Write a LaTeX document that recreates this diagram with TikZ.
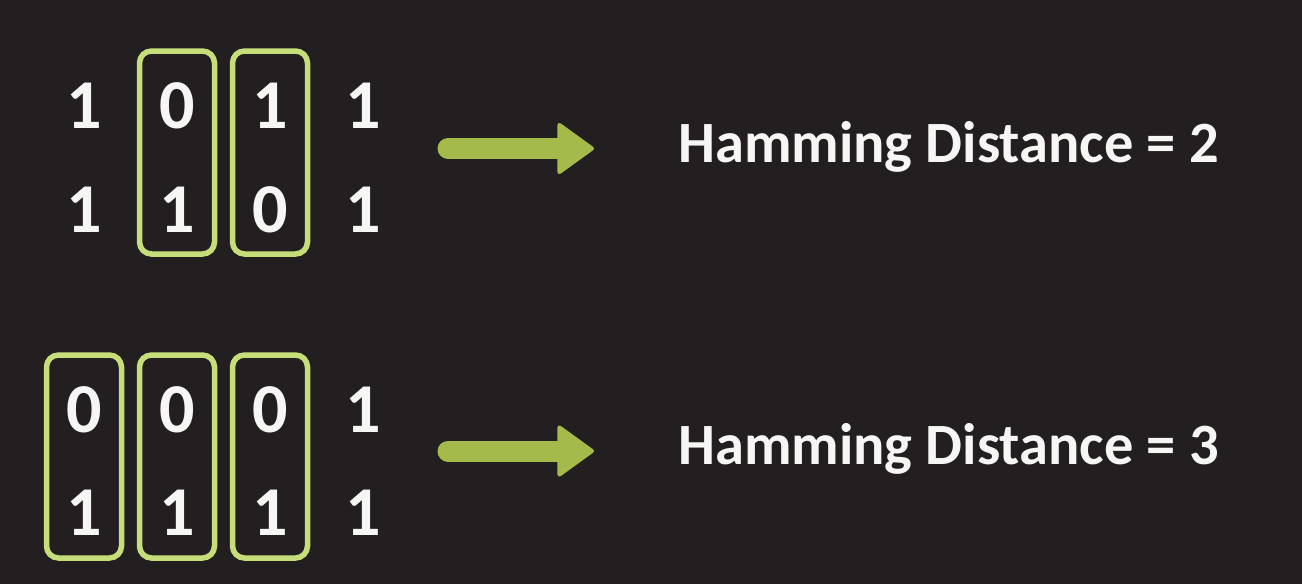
\documentclass[tikz,border=0pt]{standalone}
\usepackage{fontspec}
\setmainfont{Carlito}
\usetikzlibrary{arrows.meta}
\definecolor{mybg}{RGB}{35,31,32}
\definecolor{mylime}{RGB}{197,222,122}
\definecolor{myolive}{RGB}{164,186,74}
\definecolor{mywhite}{RGB}{246,246,244}
\begin{document}
\begin{tikzpicture}[x=1pt,y=-1pt,
	every node/.style={text=mywhite,inner sep=0pt},
	bitnode/.style={font=\fontsize{70}{72}\selectfont\bfseries},
	colbox/.style={draw=mylime,line width=5.5pt,rounded corners=12pt,minimum width=75pt,minimum height=203pt},
	resultnode/.style={anchor=base west,font=\fontsize{58.5}{60}\selectfont\bfseries},
	bigarrow/.style={myolive,line width=21pt,line cap=round,-{Triangle[length=38pt,width=54pt,line width=4pt,round]}},
	]
	
	% background
	\fill[mybg] (0,0) rectangle (1302,584);
	
	% the first pair of words
	\foreach \b [count=\i] in {1,0,1,1}
	\node[bitnode] (a\i) at ({84+93*(\i-1)},106) {\b};
	\foreach \b [count=\i] in {1,1,0,1}
	\node[bitnode] (b\i) at ({84+93*(\i-1)},210) {\b};
	
	% the second pair of words
	\foreach \b [count=\i] in {0,0,0,1}
	\node[bitnode] (c\i) at ({84+93*(\i-1)},410) {\b};
	\foreach \b [count=\i] in {1,1,1,1}
	\node[bitnode] (d\i) at ({84+93*(\i-1)},513) {\b};
	
	% the differing columns
	\foreach \i in {2,3}
	\node[colbox] (boxab\i) at ({84+93*(\i-1)},152.5) {};
	\foreach \i in {1,2,3}
	\node[colbox] (boxcd\i) at ({84+93*(\i-1)},456.5) {};
	
	% the results
	\node[resultnode] (res1) at (678,162) {Hamming Distance = 2};
	\node[resultnode] (res2) at (678,464) {Hamming Distance = 3};
	
	% the arrows
	\coordinate (from1) at (448,148.5);
	\coordinate (to1) at (594,148.5);
	\coordinate (from2) at (448,451);
	\coordinate (to2) at (594,451);
	\draw[bigarrow] (from1) -- (to1);
	\draw[bigarrow] (from2) -- (to2);
\end{tikzpicture}
\end{document}
